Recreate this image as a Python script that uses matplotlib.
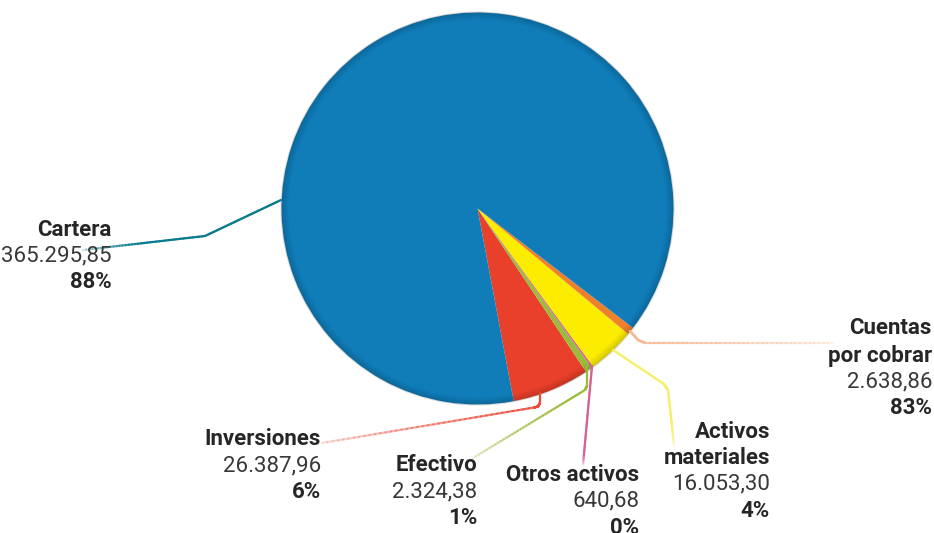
import numpy as np
import matplotlib
matplotlib.use("Agg")
import matplotlib.pyplot as plt
from matplotlib.collections import LineCollection
from matplotlib.patches import Wedge

# data, in the order the slices run counterclockwise
labels = ["Inversiones", "Efectivo", "Otros activos", "Activos\nmateriales",
          "Cuentas\npor cobrar", "Cartera"]
values = [26387.96, 2324.38, 640.68, 16053.30, 2638.86, 365295.85]
value_text = ["26.387,96", "2.324,38", "640,68", "16.053,30", "2.638,86", "365.295,85"]
pct_text = ["6%", "1%", "0%", "4%", "83%", "88%"]
colors = ["#e8402b", "#9bbb3c", "#d6609a", "#fcec00", "#ee7f2d", "#107cb8"]
line_colors = ["#ea4a36", "#9bbb3c", "#d6609a", "#f7ee6a", "#f6b995", "#0a7b8e"]

W, H = 934, 533
cx, cy, R = 477.5, 208.5, 196

fig = plt.figure(figsize=(W / 100, H / 100), dpi=100)
ax = fig.add_axes([0, 0, 1, 1])


def P(x, y):
    # pixel coords (origin top-left) -> data coords
    return x, H - y


wedges, _ = ax.pie(values, colors=colors, startangle=280.64, counterclock=True,
                   center=P(cx, cy), radius=R,
                   wedgeprops=dict(linewidth=0))

# slightly darker rim, like the shading in the original
for i in range(8):
    ax.add_patch(Wedge(P(cx, cy), R - 7 + i + 1, 0, 360, width=1.2,
                       facecolor="black", edgecolor="none", alpha=0.018 * (i + 1)))


def leader(pts, color, fade=0.0):
    pts = [P(x, y) for x, y in pts]
    segs, alphas = [], []
    for (x0, y0), (x1, y1) in zip(pts[:-1], pts[1:]):
        n = 40
        xs = np.linspace(x0, x1, n + 1)
        ys = np.linspace(y0, y1, n + 1)
        for k in range(n):
            segs.append([(xs[k], ys[k]), (xs[k + 1], ys[k + 1])])
    m = len(segs)
    for k in range(m):
        t = k / max(m - 1, 1)
        a = 1.0
        if fade > 0 and t > 1 - fade:
            a = 1.0 - 0.8 * (t - (1 - fade)) / fade
        alphas.append(a)
    rgba = [matplotlib.colors.to_rgba(color, a) for a in alphas]
    ax.add_collection(LineCollection(segs, colors=rgba, linewidths=1.6,
                                     capstyle="round", zorder=1))


leader([(540, 393), (540, 403), (538, 406.5), (534, 407.5), (322, 443)], line_colors[0], 0.3)
leader([(587, 366), (587, 386), (585, 390), (473, 458)], line_colors[1], 0.3)
leader([(592, 366), (583, 465)], line_colors[2], 0.1)
leader([(613, 350), (664, 384), (668, 390), (674, 445)], line_colors[3], 0.15)
leader([(630, 331), (638, 340), (645, 343), (833, 343)], line_colors[4], 0.4)
leader([(281, 200), (205, 236), (83, 250)], line_colors[5], 0.25)

# label blocks: right edge x, y of each line (pixels)
blocks = [
    (321, [439, 466, 492]),
    (477, [465, 492, 518]),
    (639, [475, 501, 528]),
    (770, [432, 458, 484, 511]),
    (932, [328, 356, 382, 408]),
    (112, [230, 256, 282]),
]

fam = ["Roboto", "DejaVu Sans"]
fs = 16
for i, (xr, ys) in enumerate(blocks):
    name_lines = labels[i].split("\n")
    texts = [(s, "bold") for s in name_lines] + [(value_text[i], "normal"), (pct_text[i], "bold")]
    for (s, w), y in zip(texts, ys):
        ax.text(*P(xr, y), s, ha="right", va="center", fontsize=fs, fontweight=w,
                family=fam, color="#262626" if w == "bold" else "#383838")

ax.set_xlim(0, W)
ax.set_ylim(0, H)
ax.set_aspect("equal")
ax.axis("off")

fig.savefig("out.png", dpi=100)
